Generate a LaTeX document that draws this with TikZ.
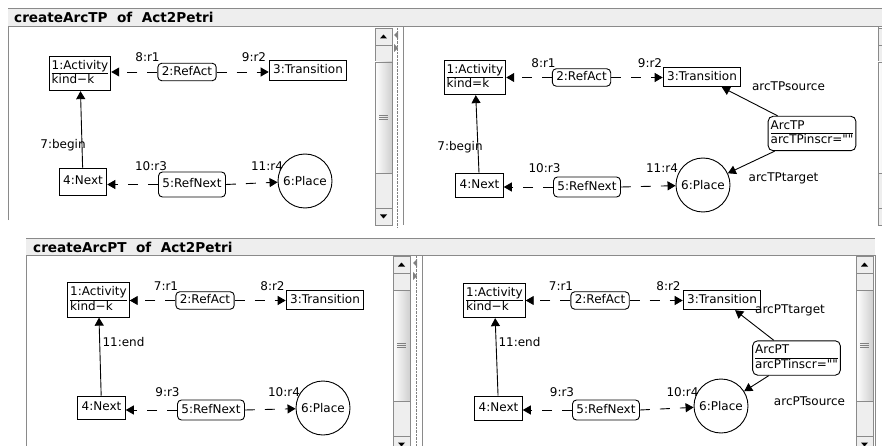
\documentclass[tikz,border=0pt]{standalone}
\usepackage{fontspec}
\setmainfont{DejaVu Sans}
\usetikzlibrary{arrows.meta,calc}
\definecolor{chrome}{HTML}{EEEEEE}
\definecolor{frame}{HTML}{8A8A8A}
\definecolor{thumb}{HTML}{CFCFCF}
\tikzset{
  obj/.style={draw,line width=0.9pt,font=\fontsize{12}{14}\selectfont,inner xsep=4pt,inner ysep=4pt,text height=9pt,text depth=2.5pt},
  refobj/.style={obj,rounded corners=4pt,inner ysep=3pt},
  attrobj/.style={draw,line width=0.9pt,font=\fontsize{12}{14}\selectfont,inner xsep=2.5pt,inner ysep=3pt},
  placeobj/.style={draw,circle,line width=0.9pt,minimum size=54pt,inner sep=0pt,font=\fontsize{12}{14}\selectfont},
  lbl/.style={font=\fontsize{12}{14}\selectfont,inner sep=0pt},
  titletxt/.style={font=\fontsize{13.6}{15}\selectfont\bfseries,inner sep=0pt,anchor=west},
  reflink/.style={line width=0.9pt,dash pattern=on 10pt off 10pt,-{Triangle[length=8pt,width=9pt]}},
  assoc/.style={line width=0.9pt,-{Triangle[length=8pt,width=9pt]}}
}
\newcommand{\twoline}[2]{\begin{tabular}{@{}l@{}}#1\\\hline #2\end{tabular}}
\newcommand{\scrollbar}[1]{%
  \begin{scope}[shift={(#1)}]
    \draw[frame,fill=chrome] (0,0) rectangle (17,197);
    \draw[frame] (0,17) -- (17,17) (0,180) -- (17,180);
    \draw[frame,left color=white,right color=thumb] (0,34) rectangle (17,145);
    \foreach \g in {-2,0,2} \draw[gray,line width=0.6pt] (4,89+\g) -- (13,89+\g);
    \fill (5,10.5) -- (12,10.5) -- (8.5,6.5) -- cycle;
    \fill (5,186.5) -- (12,186.5) -- (8.5,190.5) -- cycle;
  \end{scope}}
\newcommand{\splitter}[1]{%
  \begin{scope}[shift={(#1)}]
    \draw[gray,densely dotted] (5,0) -- (5,200);
    \fill[gray] (2,7) -- (6,3) -- (6,11) -- cycle;
    \fill[gray] (6,20) -- (2,16) -- (2,24) -- cycle;
  \end{scope}}

\begin{document}
\begin{tikzpicture}[x=1pt,y=-1pt]
  \useasboundingbox (0,0) rectangle (882,446);
  \clip (0,0) rectangle (882,446);

  % window frames
  \fill[chrome] (8,8) rectangle (890,27);
  \draw[frame] (8,8) -- (890,8);
  \draw[frame,line width=1pt] (8,220) -- (8,27) -- (890,27);
  \draw[frame] (403,27) -- (403,225) (878,27) -- (878,225);
  \scrollbar{375,28}
  \splitter{392,28}
  \scrollbar{878,28}
  \node[titletxt] (ttlA) at (14,17.5) {createArcTP\ \ of\ \ Act2Petri};

  \fill[chrome] (26,238) rectangle (875,255);
  \draw[frame] (26,238) -- (875,238);
  \draw[frame,line width=1pt] (26,450) -- (26,255) -- (875,255) -- (875,450);
  \draw[frame] (422,255) -- (422,450);
  \scrollbar{393,256}
  \splitter{411,256}
  \scrollbar{856,256}
  \node[titletxt] (ttlC) at (33,247) {createArcPT\ \ of\ \ Act2Petri};

  % createArcTP, left
  \node[attrobj] (actA) at (80,73.5) {\twoline{1:Activity}{kind−k}};
  \node[refobj] (raA) at (187,72) {2:RefAct};
  \node[obj] (trA) at (308,70.5) {3:Transition};
  \node[obj,minimum height=27pt] (nxA) at (83,181.5) {4:Next};
  \node[refobj,minimum height=25pt] (rnA) at (192,184.5) {5:RefNext};
  \node[lbl] (l1A) at (147.5,57.5) {8:r1};
  \node[lbl] (l2A) at (254,57.5) {9:r2};
  \node[lbl] (l3A) at (151,166) {10:r3};
  \node[lbl] (l4A) at (267,166) {11:r4};
  \node[lbl] (l5A) at (63,145) {7:begin};
  \node[placeobj] (plA) at (305,181) {6:Place};
  \draw[reflink] (raA.west) -- (raA.west -| actA.east);
  \draw[reflink] (raA.east) -- (raA.east -| trA.west);
  \draw[reflink] (rnA.west) -- (rnA.west -| nxA.east);
  \draw[reflink] (rnA.east) -- (plA);
  \draw[assoc] (nxA) -- (actA);

  % createArcTP, right
  \node[attrobj] (actB) at (475,77.5) {\twoline{1:Activity}{kind=k}};
  \node[refobj] (raB) at (581.5,77.5) {2:RefAct};
  \node[obj] (trB) at (702,77) {3:Transition};
  \node[obj,minimum height=24pt] (nxB) at (479.5,185) {4:Next};
  \node[refobj,minimum height=20pt] (rnB) at (587,187) {5:RefNext};
  \node[attrobj,rounded corners=5pt] (arcB) at (812,133.5) {\twoline{ArcTP}{arcTPinscr=\textquotedbl\textquotedbl}};
  \node[lbl] (l1B) at (543.5,63) {8:r1};
  \node[lbl] (l2B) at (650,63) {9:r2};
  \node[lbl] (l3B) at (544.5,168) {10:r3};
  \node[lbl] (l4B) at (662,168) {11:r4};
  \node[lbl] (l5B) at (460,147) {7:begin};
  \node[lbl] (l6B) at (788.5,86) {arcTPsource};
  \node[lbl] (l7B) at (783.5,178) {arcTPtarget};
  \node[placeobj] (plB) at (703,185) {6:Place};
  \draw[reflink] (raB.west) -- (raB.west -| actB.east);
  \draw[reflink] (raB.east) -- (raB.east -| trB.west);
  \draw[reflink] (rnB.west) -- (rnB.west -| nxB.east);
  \draw[reflink] (rnB.east) -- (plB);
  \draw[assoc] (nxB) -- (actB);
  \draw[assoc] (arcB) -- (trB);
  \draw[assoc] (arcB) -- (plB);

  % createArcPT, left
  \node[attrobj] (actC) at (98.5,300) {\twoline{1:Activity}{kind−k}};
  \node[refobj] (raC) at (205,300.5) {2:RefAct};
  \node[obj] (trC) at (325,300) {3:Transition};
  \node[obj,minimum height=23pt] (nxC) at (101.5,407.5) {4:Next};
  \node[refobj,minimum height=20pt] (rnC) at (211,410) {5:RefNext};
  \node[lbl] (l1C) at (166,286.5) {7:r1};
  \node[lbl] (l2C) at (272.5,286.5) {8:r2};
  \node[lbl] (l3C) at (167.5,392) {9:r3};
  \node[lbl] (l4C) at (284,392) {10:r4};
  \node[lbl] (l5C) at (123.5,342) {11:end};
  \node[placeobj] (plC) at (323,408) {6:Place};
  \draw[reflink] (raC.west) -- (raC.west -| actC.east);
  \draw[reflink] (raC.east) -- (raC.east -| trC.west);
  \draw[reflink] (rnC.west) -- (rnC.west -| nxC.east);
  \draw[reflink] (rnC.east) -- (plC);
  \draw[assoc] (nxC) -- (actC);

  % createArcPT, right
  \node[attrobj] (actD) at (494.5,300.5) {\twoline{1:Activity}{kind−k}};
  \node[refobj] (raD) at (600,300.5) {2:RefAct};
  \node[obj] (trD) at (722,300) {3:Transition};
  \node[obj,minimum height=24pt] (nxD) at (498.5,408) {4:Next};
  \node[refobj,minimum height=20pt] (rnD) at (606,410) {5:RefNext};
  \node[attrobj,rounded corners=5pt] (arcD) at (796.5,358) {\twoline{ArcPT}{arcPTinscr=\textquotedbl\textquotedbl}};
  \node[lbl] (l1D) at (561,286.5) {7:r1};
  \node[lbl] (l2D) at (668.5,286.5) {8:r2};
  \node[lbl] (l3D) at (562,392) {9:r3};
  \node[lbl] (l4D) at (682.5,392) {10:r4};
  \node[lbl] (l5D) at (519.5,342) {11:end};
  \node[lbl] (l6D) at (790,310) {arcPTtarget};
  \node[lbl] (l7D) at (809.5,401) {arcPTsource};
  \node[placeobj] (plD) at (721,406) {6:Place};
  \draw[reflink] (raD.west) -- (raD.west -| actD.east);
  \draw[reflink] (raD.east) -- (raD.east -| trD.west);
  \draw[reflink] (rnD.west) -- (rnD.west -| nxD.east);
  \draw[reflink] (rnD.east) -- (plD);
  \draw[assoc] (nxD) -- (actD);
  \draw[assoc] (arcD) -- (trD);
  \draw[assoc] (arcD) -- (plD);
\end{tikzpicture}
\end{document}
